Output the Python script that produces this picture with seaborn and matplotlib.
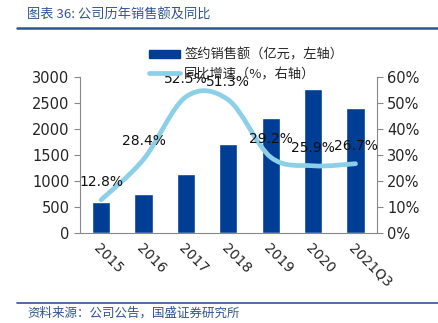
import numpy as np
import pandas as pd
import matplotlib
matplotlib.use("Agg")
import matplotlib.pyplot as plt
from matplotlib.path import Path
from matplotlib.patches import PathPatch, Patch
from matplotlib.lines import Line2D
from matplotlib.ticker import FuncFormatter
import seaborn as sns

categories = ["2015", "2016", "2017", "2018", "2019", "2020", "2021Q3"]
sales = [590, 750, 1135, 1710, 2210, 2780, 2415]
growth = [12.8, 28.4, 52.5, 51.3, 29.2, 25.9, 26.7]

sns.set_style("white")
plt.rcParams['font.family'] = ['DejaVu Sans', 'Noto Sans CJK SC']
CJK = ['Noto Sans CJK SC', 'DejaVu Sans']

bar_color = "#003d94"
line_color = "#8ccfe8"
title_color = "#2f5496"

fig = plt.figure(figsize=(4.39, 3.23), dpi=100)
ax = fig.add_axes([80/439, 1-233/323, (376.7-80)/439, (233-77.3)/323])

df = pd.DataFrame({"cat": categories, "sales": sales})
sns.barplot(data=df, x="cat", y="sales", color=bar_color, saturation=1,
            width=0.43, ax=ax)
ax.set_xlim(-0.5, len(categories)-0.5)
ax.set_ylim(0, 3000)
ax.set_yticks(np.arange(0, 3001, 500))
ax.set_xlabel("")
ax.set_ylabel("")
ax.set_xticks(np.arange(len(categories)))
ax.set_xticklabels(categories, rotation=-45, ha="left", va="top",
                   rotation_mode="anchor", fontsize=10)
ax.set_xticks(np.arange(-0.5, len(categories)), minor=True)
ax.tick_params(axis="x", which="major", length=0, pad=6)
ax.tick_params(axis="x", which="minor", length=4, color="#888888", direction="out")
ax.tick_params(axis="y", length=4, color="#888888", direction="out", labelsize=10.5)
for s in ["left", "bottom"]:
    ax.spines[s].set_color("#888888")
    ax.spines[s].set_linewidth(0.8)
ax.spines["top"].set_visible(False)
ax.spines["right"].set_visible(False)

ax2 = ax.twinx()
ax2.set_ylim(0, 60)
ax2.set_yticks(np.arange(0, 61, 10))
ax2.yaxis.set_major_formatter(FuncFormatter(lambda v, p: f"{v:.0f}%"))
ax2.tick_params(axis="y", length=4, color="#888888", direction="out", labelsize=10.5)
ax2.spines["right"].set_color("#888888")
ax2.spines["right"].set_linewidth(0.8)
for s in ["top", "left", "bottom"]:
    ax2.spines[s].set_visible(False)

# smoothed line drawn as Bezier path through the data points
xs = np.arange(len(growth), dtype=float)
ys = np.array(growth, dtype=float)
verts = [(xs[0], ys[0])]
codes = [Path.MOVETO]
n = len(xs)
for i in range(n-1):
    p0 = np.array([xs[max(i-1, 0)], ys[max(i-1, 0)]])
    p1 = np.array([xs[i], ys[i]])
    p2 = np.array([xs[i+1], ys[i+1]])
    p3 = np.array([xs[min(i+2, n-1)], ys[min(i+2, n-1)]])
    c1 = p1 + (p2 - p0) / 6.0
    c2 = p2 - (p3 - p1) / 6.0
    verts += [tuple(c1), tuple(c2), tuple(p2)]
    codes += [Path.CURVE4]*3
patch = PathPatch(Path(verts, codes), facecolor="none", edgecolor=line_color,
                  linewidth=3.4, capstyle="round", joinstyle="round")
ax2.add_patch(patch)

for x, v in zip(xs, growth):
    ax2.annotate(f"{v:.1f}%", (x, v), xytext=(0, 13), textcoords="offset points",
                 ha="center", va="center", fontsize=10, color="#111111")

# legend
handles = [Patch(facecolor=bar_color, edgecolor=bar_color),
           Line2D([], [], color=line_color, linewidth=3.4)]
labels = ["签约销售额（亿元，左轴）", "同比增速（%，右轴）"]
fig.legend(handles, labels, loc="upper left", bbox_to_anchor=(142/439, 1-42/323),
           frameon=False, prop={"family": CJK, "size": 9.5}, handlelength=2.4,
           handleheight=0.6, handletextpad=0.3, labelspacing=0.45, borderpad=0)

# title and footer
fig.text(27/439, 1-14/323, "图表 36: 公司历年销售额及同比", color=title_color,
         fontsize=9.5, family=CJK, va="center", ha="left")
fig.add_artist(Line2D([17/439, 1], [1-28/323, 1-28/323], color=title_color, linewidth=1.8))
fig.add_artist(Line2D([17/439, 1], [1-303/323, 1-303/323], color=title_color, linewidth=1.2))
fig.text(27/439, 1-313/323, "资料来源：公司公告，国盛证券研究所", color=title_color,
         fontsize=9, family=CJK, va="center", ha="left")

fig.savefig("out.png", dpi=100)
